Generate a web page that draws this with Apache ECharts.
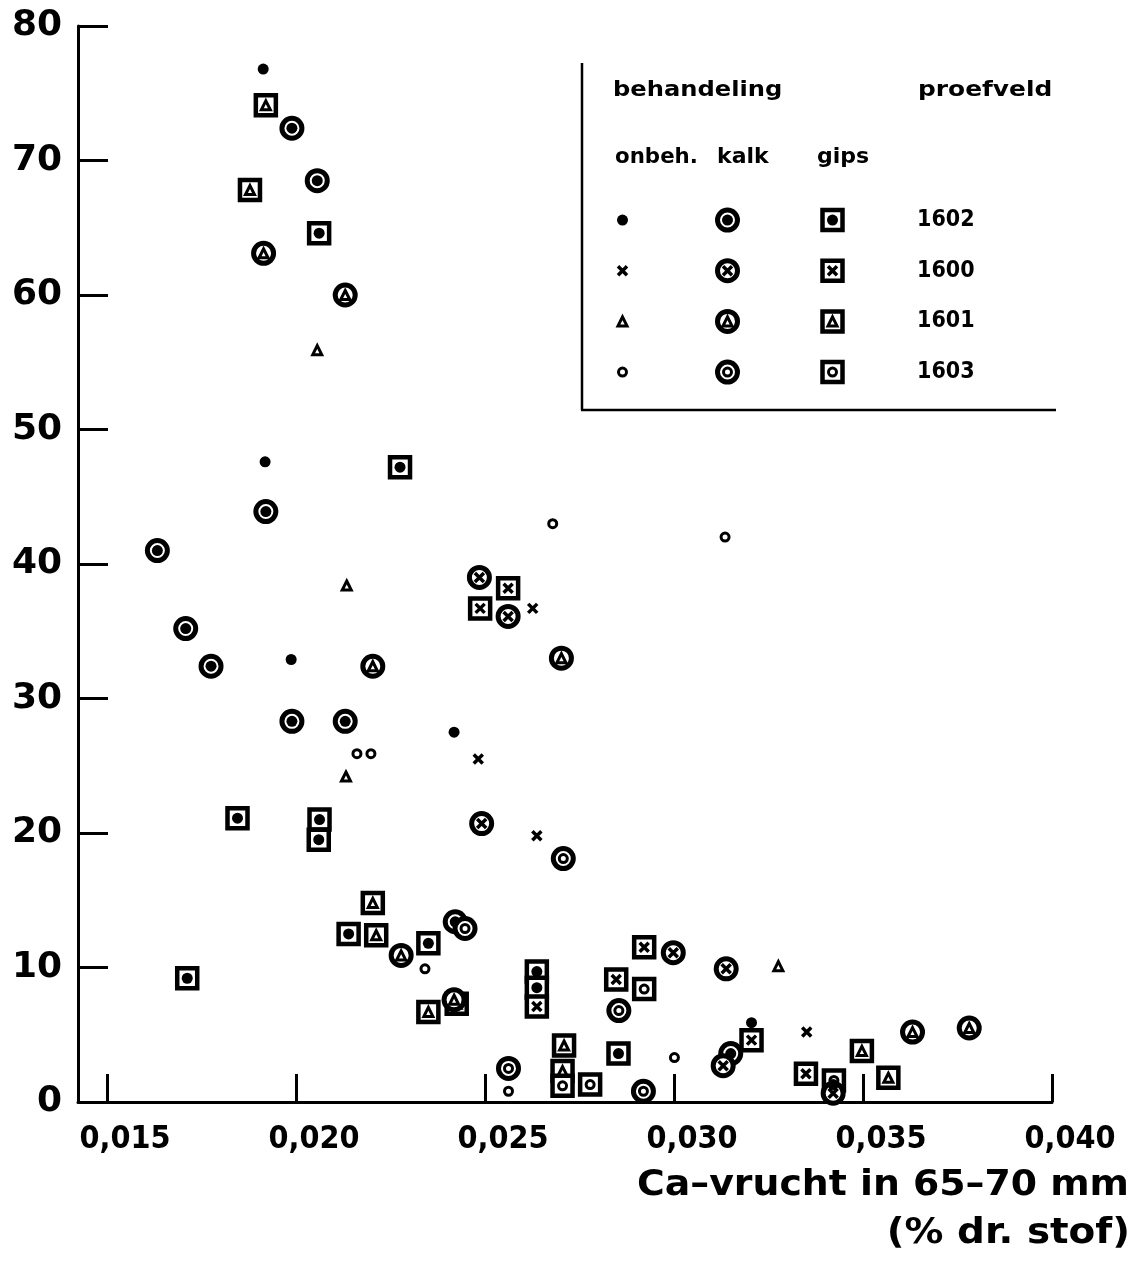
<!DOCTYPE html>
<html><head><meta charset="utf-8">
<script src="https://cdn.jsdelivr.net/npm/echarts@6/dist/echarts.min.js"></script>
<style>html,body{margin:0;padding:0;background:#fff}#c{width:1144px;height:1268px}</style>
</head><body><div id="c"></div>
<script>
// ---- axis ticks ----
const xTickValues = [0.015, 0.020, 0.025, 0.030, 0.035, 0.040];
const yTickValues = [0, 10, 20, 30, 40, 50, 60, 70, 80];

// ---- legend categories ----
const treatments = ['onbeh.', 'kalk', 'gips'];
const fields = ['1602', '1600', '1601', '1603'];

// ---- data: [Ca-vrucht (% dr. stof), y] ----
const onbeh1602 = [[0.01913,76.8],[0.01918,47.6],[0.01987,32.9],[0.02418,27.5],[0.03205,5.9],[0.03421,1.3]];
const onbeh1600 = [[0.02626,36.7],[0.02482,25.5],[0.02637,19.8],[0.03351,5.2]];
const onbeh1601 = [[0.02056,55.9],[0.02134,38.4],[0.02132,24.2],[0.03276,10.1]];
const onbeh1603 = [[0.02679,43.0],[0.03135,42.0],[0.02161,25.9],[0.02198,25.9],[0.02341,9.9],[0.02562,0.8],[0.03001,3.3]];

const kalk1602 = [[0.01989,72.4],[0.02056,68.5],[0.01920,43.9],[0.01633,41.0],[0.01708,35.2],[0.01775,32.4],[0.01989,28.3],[0.02130,28.3],[0.02421,13.4],[0.03150,3.6]];
const kalk1600 = [[0.02485,39.0],[0.02561,36.1],[0.02491,20.7],[0.02998,11.1],[0.03138,9.9],[0.03130,2.7],[0.03421,0.65]];
const kalk1601 = [[0.01914,63.1],[0.02130,60.0],[0.02203,32.4],[0.02702,33.0],[0.02278,10.9],[0.02418,7.6],[0.03631,5.2],[0.03781,5.5]];
const kalk1603 = [[0.02707,18.1],[0.02447,12.9],[0.02854,6.8],[0.02562,2.5],[0.02919,0.8]];

const gips1602 = [[0.02061,64.6],[0.02275,47.2],[0.01845,21.1],[0.02062,21.0],[0.02060,19.5],[0.02139,12.5],[0.02350,11.8],[0.01712,9.2],[0.02637,9.7],[0.02637,8.5],[0.02853,3.6]];
const gips1600 = [[0.02561,38.2],[0.02487,36.7],[0.02637,7.1],[0.02921,11.5],[0.02847,9.1],[0.03205,4.6],[0.03349,2.1]];
const gips1601 = [[0.01920,74.1],[0.01878,67.8],[0.02203,14.8],[0.02212,12.4],[0.02350,6.7],[0.02425,7.3],[0.02709,4.2],[0.02705,2.3],[0.03497,3.8],[0.03567,1.8]];
const gips1603 = [[0.02921,8.4],[0.02778,1.3],[0.02705,1.2],[0.03423,1.6]];

const groups = [
  ['gips','1602',gips1602],['gips','1600',gips1600],['gips','1601',gips1601],['gips','1603',gips1603],
  ['kalk','1602',kalk1602],['kalk','1600',kalk1600],['kalk','1601',kalk1601],['kalk','1603',kalk1603],
  ['onbeh.','1602',onbeh1602],['onbeh.','1600',onbeh1600],['onbeh.','1601',onbeh1601],['onbeh.','1603',onbeh1603]
];

const INK = '#000';
function innerMark(field) {
  if (field === '1602') return { symbol: 'circle', symbolSize: 11, itemStyle: { color: INK, borderWidth: 0, opacity: 1 } };
  if (field === '1600') return { symbol: 'path://M0,0L10,10M10,0L0,10', symbolSize: 9, itemStyle: { color: 'rgba(0,0,0,0)', borderColor: INK, borderWidth: 3.5, opacity: 1 } };
  if (field === '1601') return { symbol: 'triangle', symbolSize: 9, itemStyle: { color: '#fff', borderColor: INK, borderWidth: 3, opacity: 1 } };
  return { symbol: 'circle', symbolSize: 8, itemStyle: { color: '#fff', borderColor: INK, borderWidth: 3, opacity: 1 } };
}
function outerMark(treat) {
  if (treat === 'kalk') return { symbol: 'circle', symbolSize: 20, itemStyle: { color: '#fff', borderColor: INK, borderWidth: 5, opacity: 1 } };
  if (treat === 'gips') return { symbol: 'rect', symbolSize: 20, itemStyle: { color: '#fff', borderColor: INK, borderWidth: 4.5, opacity: 1 } };
  return null;
}
function layers(treat, field, data, gi) {
  const out = [];
  const o = outerMark(treat);
  const base = { type: 'scatter', xAxisIndex: gi, yAxisIndex: gi, data: data, silent: true, animation: false };
  if (o) out.push(Object.assign({}, base, o));
  out.push(Object.assign({}, base, innerMark(field)));
  return out;
}

const series = [];
groups.forEach(g => series.push(...layers(g[0], g[1], g[2], 0)));
// legend grid symbols, placed by category
treatments.forEach(t => fields.forEach(f => series.push(...layers(t, f, [[t, f]], 1))));

const NUM_FONT = "'DejaVu Sans Condensed', sans-serif";
const TXT_FONT = "'DejaVu Sans', sans-serif";

function label(text, x, y, size, sx, align) {
  return { type: 'text', silent: true, x: x, y: y, scaleX: sx,
    style: { x: 0, y: 0, text: text, font: 'bold ' + size + "px 'DejaVu Sans'", fill: INK,
      textAlign: align || 'left', textVerticalAlign: 'middle' } };
}

const chart = echarts.init(document.getElementById('c'), null, { renderer: 'canvas' });
chart.setOption({
  backgroundColor: '#fff',
  animation: false,
  grid: [
    { left: 78, top: 26, width: 974, height: 1076 },
    { left: 570, top: 194.7, width: 315, height: 202.7 }
  ],
  xAxis: [
    {
      type: 'value', gridIndex: 0, min: 0.01423, max: 0.040,
      axisLine: { show: true, onZero: false, lineStyle: { color: INK, width: 3 } },
      axisTick: { show: true, inside: true, length: 28, customValues: xTickValues, lineStyle: { color: INK, width: 3 } },
      axisLabel: {
        customValues: xTickValues, color: INK, fontFamily: NUM_FONT, fontWeight: 'bold', fontSize: 32,
        margin: 22, padding: [0, 0, 0, 36],
        formatter: v => v.toFixed(3).replace('.', ',')
      },
      splitLine: { show: false }
    },
    {
      type: 'category', gridIndex: 1, data: treatments,
      axisLine: { show: false }, axisTick: { show: false }, axisLabel: { show: false }, splitLine: { show: false }
    }
  ],
  yAxis: [
    {
      type: 'value', gridIndex: 0, min: 0, max: 80, interval: 10,
      axisLine: { show: true, lineStyle: { color: INK, width: 3 } },
      axisTick: { show: true, inside: true, length: 30, lineStyle: { color: INK, width: 3 } },
      axisLabel: { color: INK, fontFamily: TXT_FONT, fontWeight: 'bold', fontSize: 36, margin: 16 },
      splitLine: { show: false }
    },
    {
      type: 'category', gridIndex: 1, data: fields, inverse: true, position: 'right',
      axisLine: { show: false }, axisTick: { show: false }, splitLine: { show: false },
      axisLabel: { color: INK, fontFamily: "'DejaVu Sans Condensed', sans-serif", fontWeight: 'bold', fontSize: 23, margin: 32, align: 'left', padding: [9, 0, 0, 0] }
    }
  ],
  series: series,
  graphic: [
    { type: 'line', silent: true, shape: { x1: 582, y1: 63, x2: 582, y2: 410 }, style: { stroke: INK, lineWidth: 2.5 } },
    { type: 'line', silent: true, shape: { x1: 581, y1: 410, x2: 1056, y2: 410 }, style: { stroke: INK, lineWidth: 2.5 } },
    label('behandeling', 613, 90, 22, 1.1),
    label('proefveld', 918, 90, 22, 1.13),
    label('onbeh.', 615, 157, 22, 0.97),
    label('kalk', 717, 157, 22, 1.0),
    label('gips', 817, 157, 22, 1.0),
    label('Ca–vrucht in 65–70 mm', 1129, 1186, 36, 1.05, 'right'),
    label('(% dr. stof)', 1130, 1234, 36, 1.08, 'right')
  ]
});
</script>
</body></html>
